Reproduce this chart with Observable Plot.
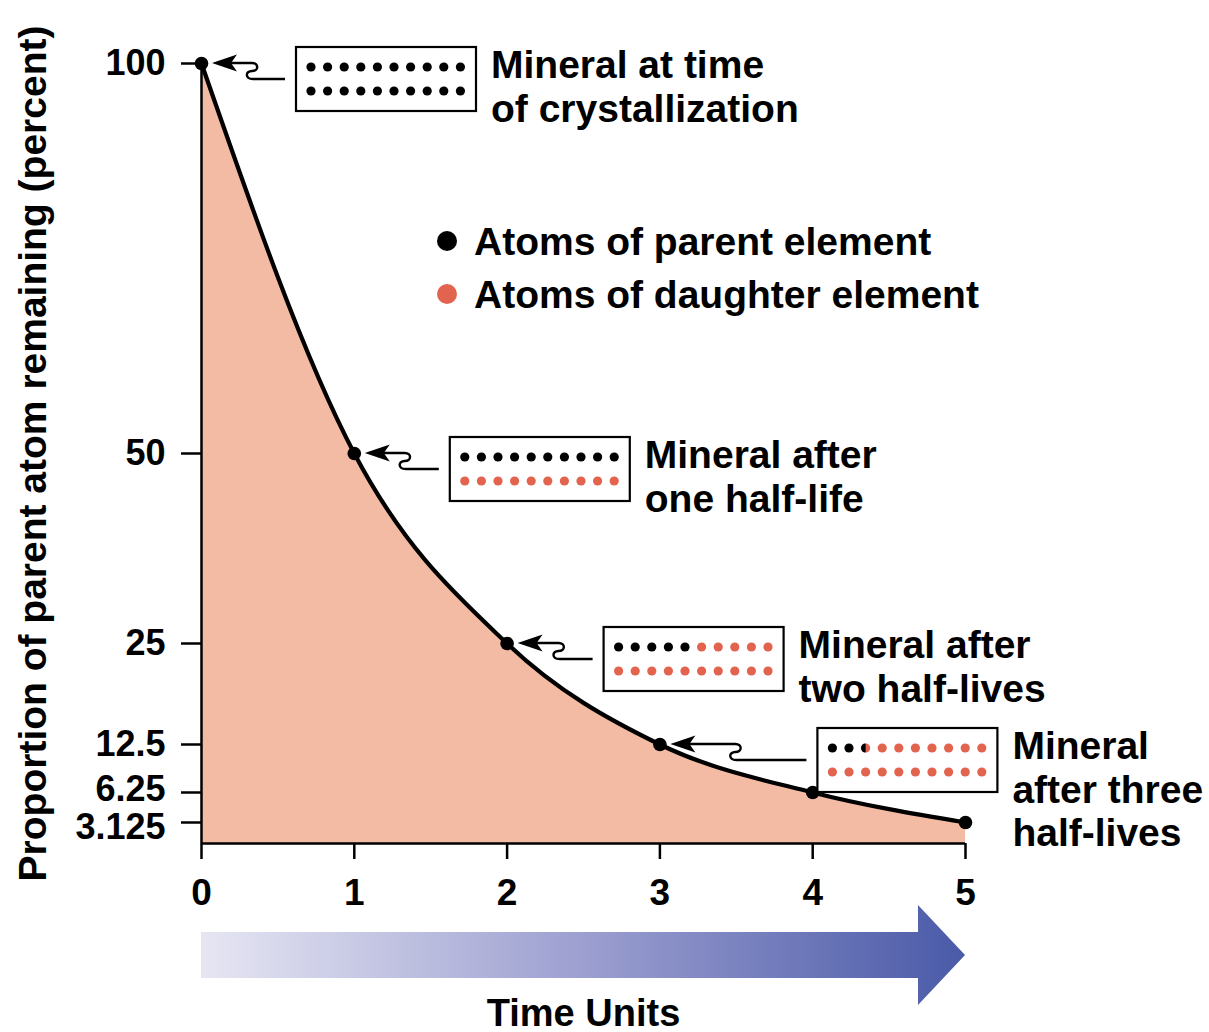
<!DOCTYPE html>
<html>
<head>
<meta charset="utf-8">
<script src="https://cdn.jsdelivr.net/npm/d3@7"></script>
<script src="https://cdn.jsdelivr.net/npm/@observablehq/plot@0.6"></script>
<style>
  html, body { margin: 0; padding: 0; background: #fff; }
  #chart svg { display: block; }
</style>
</head>
<body>
<div id="chart"></div>
<script>
// ---------- data ----------
const halfLives = [0, 1, 2, 3, 4, 5];
const parentPercent = [100, 50, 25, 12.5, 6.25, 3.125];
const xTicks = [0, 1, 2, 3, 4, 5];
const yTicks = [100, 50, 25, 12.5, 6.25, 3.125];
const yTickLabels = ["100", "50", "25", "12.5", "6.25", "3.125"];
const boxHalfLife = [0, 1, 2, 3];
const boxParentAtoms = [20, 10, 5, 2.5];   // parent atoms out of 20 in each mineral sketch
const boxLabels = [
  ["Mineral at time", "of crystallization"],
  ["Mineral after", "one half-life"],
  ["Mineral after", "two half-lives"],
  ["Mineral", "after three", "half-lives"]
];
const legendLabels = ["Atoms of parent element", "Atoms of daughter element"];
const xLabel = "Time Units";
const yLabel = "Proportion of parent atom remaining (percent)";

// ---------- layout / style ----------
const W = 1209, H = 1032;
const FONT = '"Liberation Sans", Arial, Helvetica, sans-serif';
const FILL = "#F3BBA3";
const DAUGHTER = "#E2644F";
// the drawing's vertical axis is only roughly linear: piecewise scale
const yDomain = [0, 3.125, 6.25, 12.5, 25, 50, 100];
const yRange  = [843, 822, 792, 744, 643, 453, 63];
const boxLayout = [
  {lead: 51, boxDx: 95},
  {lead: 51, boxDx: 96},
  {lead: 52, boxDx: 97},
  {lead: 76, boxDx: 158}
];

const data = halfLives.map((t, i) => ({t, p: parentPercent[i]}));
const yLab = d => yTickLabels[yTicks.indexOf(d)];
const yLabelStyle = {y: d => d, text: yLab, frameAnchor: "left", dx: -36, textAnchor: "end",
  lineAnchor: "middle", fontSize: 36, fontWeight: "bold", fill: "#000"};

const plot = Plot.plot({
  width: W, height: H,
  marginLeft: 201, marginRight: 244, marginTop: 63, marginBottom: 189,
  style: {fontFamily: FONT, fontWeight: "bold", fontSize: "37px", color: "#000", background: "#fff", overflow: "visible"},
  x: {domain: [0, 5], ticks: xTicks, tickSize: 16, tickPadding: 19, tickFormat: d => String(d), label: null},
  y: {type: "linear", domain: yDomain, range: yRange, ticks: yTicks, tickSize: 20,
      tickFormat: () => "", label: null},
  marks: [
    Plot.areaY(data, {x: "t", y: "p", curve: "monotone-x", fill: FILL}),
    Plot.ruleY([0], {stroke: "#000", strokeWidth: 2.5}),
    Plot.ruleX([0], {y1: 0, y2: 100, stroke: "#000", strokeWidth: 2.5}),
    Plot.lineY(data, {x: "t", y: "p", curve: "monotone-x", stroke: "#000", strokeWidth: 4.2}),
    Plot.dot(data, {x: "t", y: "p", r: 6.8, fill: "#000", stroke: "none"}),
    // y tick labels (the two crowded bottom ones nudged apart, as in the drawing)
    Plot.text(yTicks, {...yLabelStyle, filter: d => d >= 12.5}),
    Plot.text(yTicks, {...yLabelStyle, filter: d => d === 6.25, dy: -3}),
    Plot.text(yTicks, {...yLabelStyle, filter: d => d === 3.125, dy: 5}),
    Plot.text([yLabel], {frameAnchor: "left", text: d => d, rotate: -90, dx: -168,
      textAnchor: "middle", lineAnchor: "middle",
      fontSize: 39, fontWeight: "bold", fill: "#000"}),
    Plot.text([xLabel], {frameAnchor: "bottom", text: d => d, dy: 170,
      textAnchor: "middle", lineAnchor: "middle",
      fontSize: 38, fontWeight: "bold", fill: "#000"})
  ]
});

document.getElementById("chart").appendChild(plot);

// thicken axis ticks
plot.querySelectorAll('[aria-label^="x-axis"] line, [aria-label^="x-axis"] path, [aria-label^="y-axis"] line, [aria-label^="y-axis"] path')
  .forEach(el => { el.setAttribute("stroke-width", 2.5); el.setAttribute("stroke", "#000"); });

const sx = d3.scaleLinear(plot.scale("x").domain, plot.scale("x").range);
const sy = d3.scaleLinear(plot.scale("y").domain, plot.scale("y").range);
const svg = d3.select(plot);
const g = svg.append("g").attr("font-family", FONT).attr("font-weight", "bold")
  .attr("text-anchor", "start");

// ---------- gradient arrow under x axis ----------
const defs = svg.append("defs");
const grad = defs.append("linearGradient").attr("id", "timeGrad")
  .attr("gradientUnits", "userSpaceOnUse")
  .attr("x1", sx(0)).attr("x2", sx(5)).attr("y1", 0).attr("y2", 0);
grad.append("stop").attr("offset", 0).attr("stop-color", "#E6E6F3");
grad.append("stop").attr("offset", 0.5).attr("stop-color", "#9C9FD0");
grad.append("stop").attr("offset", 1).attr("stop-color", "#4A5AA8");
const ax0 = sx(0), ax1 = sx(5), ay = 955;
g.append("path")
  .attr("d", `M${ax0},${ay - 23} L${ax1 - 47},${ay - 23} L${ax1 - 47},${ay - 50} L${ax1},${ay} L${ax1 - 47},${ay + 50} L${ax1 - 47},${ay + 23} L${ax0},${ay + 23} Z`)
  .attr("fill", "url(#timeGrad)");

// ---------- legend ----------
const legendColors = ["#000", DAUGHTER];
legendLabels.forEach((lab, i) => {
  const ly = 241 + i * 53;
  g.append("circle").attr("cx", 447).attr("cy", ly).attr("r", 10).attr("fill", legendColors[i]);
  g.append("text").attr("x", 474).attr("y", ly).attr("dy", "0.36em").attr("text-anchor", "start")
    .attr("font-size", 39).attr("fill", "#000").text(lab);
});

// ---------- mineral sketches with arrows ----------
const BOXW = 180, BOXH = 64, DROP = 16;
boxHalfLife.forEach((t, i) => {
  const px = sx(t), py = sy(parentPercent[halfLives.indexOf(t)]);
  const L = boxLayout[i];
  const boxX = px + L.boxDx, boxY = py + DROP - BOXH / 2;
  const tip = px + 11, s = px + L.lead;
  // arrow head
  g.append("path")
    .attr("d", `M${tip},${py} L${tip + 25},${py - 8.5} L${tip + 19},${py} L${tip + 25},${py + 8.5} Z`)
    .attr("fill", "#000");
  // shaft with squiggle
  g.append("path")
    .attr("d", `M${tip + 18},${py} L${s},${py} C${s + 7},${py} ${s + 7},${py + DROP / 2} ${s},${py + DROP / 2}` +
               ` C${s - 7},${py + DROP / 2} ${s - 7},${py + DROP} ${s + 1},${py + DROP} L${boxX - 11},${py + DROP}`)
    .attr("fill", "none").attr("stroke", "#000").attr("stroke-width", 2.4);
  // box
  g.append("rect").attr("x", boxX).attr("y", boxY).attr("width", BOXW).attr("height", BOXH)
    .attr("fill", "#fff").attr("stroke", "#000").attr("stroke-width", 2.2);
  // atoms: 2 rows x 10
  const nParent = boxParentAtoms[i];
  for (let k = 0; k < 20; k++) {
    const row = Math.floor(k / 10), col = k % 10;
    const cx = boxX + 15 + col * 16.6, cy = boxY + 20 + row * 24;
    const frac = Math.max(0, Math.min(1, nParent - k));
    if (frac >= 1) {
      g.append("circle").attr("cx", cx).attr("cy", cy).attr("r", 4.6).attr("fill", "#000");
    } else {
      g.append("circle").attr("cx", cx).attr("cy", cy).attr("r", 4.6).attr("fill", DAUGHTER);
      if (frac > 0) {
        g.append("path")
          .attr("d", `M${cx},${cy - 4.6} A4.6,4.6 0 0 0 ${cx},${cy + 4.6} Z`)
          .attr("fill", "#000");
      }
    }
  }
  // label
  const tx = boxX + BOXW + 15;
  boxLabels[i].forEach((line, j) => {
    g.append("text").attr("x", tx).attr("y", boxY + 17 + j * 43.5).attr("dy", "0.36em")
      .attr("text-anchor", "start")
      .attr("font-size", 39).attr("fill", "#000").text(line);
  });
});
</script>
</body>
</html>
